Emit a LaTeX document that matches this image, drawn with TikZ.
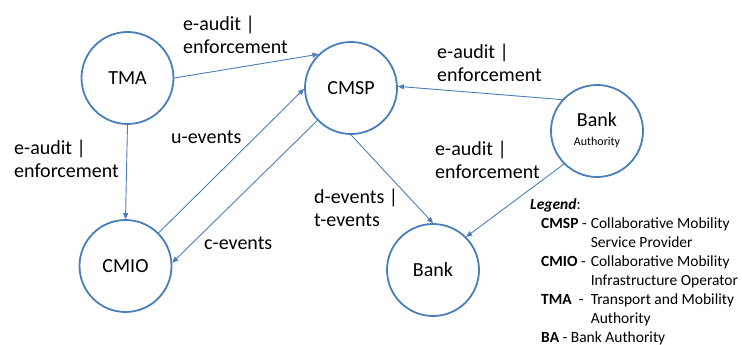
\documentclass[tikz,border=0pt]{standalone}
\usepackage{fontspec}
\setmainfont{Carlito}
\usetikzlibrary{arrows.meta}
\definecolor{cblue}{HTML}{4A7EBB}
\begin{document}
\begin{tikzpicture}[x=1pt,y=-1pt,
  ent/.style={circle,draw=cblue,line width=1.8pt,minimum size=92pt,inner sep=0pt,font=\fontsize{20}{23}\selectfont},
  conn/.style={draw=cblue,line width=0.9pt,-{Triangle[width=5pt,length=6pt]}},
  lbl/.style={anchor=north west,inner sep=0pt,align=left,font=\fontsize{20}{23}\selectfont}]
\useasboundingbox (0,0) rectangle (742,345);
\node[ent] (tma)  at (127.5,78) {TMA};
\node[ent] (cmsp) at (351,88) {CMSP};
\node[ent] (ba)   at (597,131) {\begin{tabular}{@{}c@{}}Bank\\[-4pt]{\fontsize{12}{13}\selectfont Authority}\end{tabular}};
\node[ent] (cmio) at (125.5,266) {CMIO};
\node[ent] (bank) at (433,270) {Bank};

\draw[conn] (tma.0) -- (cmsp.134);
\draw[conn] (tma.south) -- (cmio.north);
\draw[conn] (cmio.45) -- (cmsp.181);
\draw[conn] (cmsp.224) -- (cmio.4);
\draw[conn] (cmsp.south) -- (bank.north);
\draw[conn] (ba.138) -- (cmsp.2);
\draw[conn] (ba.225) -- (bank.45);

\node[lbl] (l1) at (183,16) {e-audit |\\enforcement};
\node[lbl] (l2) at (14,140) {e-audit |\\enforcement};
\node[lbl] (l3) at (171,131) {u-events};
\node[lbl] (l4) at (204,237) {c-events};
\node[lbl] (l5) at (314,189) {d-events |\\t-events};
\node[lbl] (l6) at (437,44) {e-audit |\\enforcement};
\node[lbl] (l7) at (435,141) {e-audit |\\enforcement};

\node[anchor=base west,inner sep=0pt,font=\fontsize{15.5}{19}\selectfont] (legt) at (530,209) {\textbf{\textit{Legend}}:};
\node[anchor=north west,inner sep=0pt,font=\fontsize{15.5}{19}\selectfont] (legb) at (541,215)
{\renewcommand{\arraystretch}{1}\setlength{\tabcolsep}{0pt}%
\begin{tabular}{@{}l@{\hspace{4pt}}l@{}}
\textbf{CMSP} - & Collaborative Mobility\\
 & Service Provider\\
\textbf{CMIO} - & Collaborative Mobility\\
 & Infrastructure Operator\\
\textbf{TMA} \ - & Transport and Mobility\\
 & Authority\\
\multicolumn{2}{@{}l@{}}{\textbf{BA} - Bank Authority}
\end{tabular}};
\end{tikzpicture}
\end{document}
